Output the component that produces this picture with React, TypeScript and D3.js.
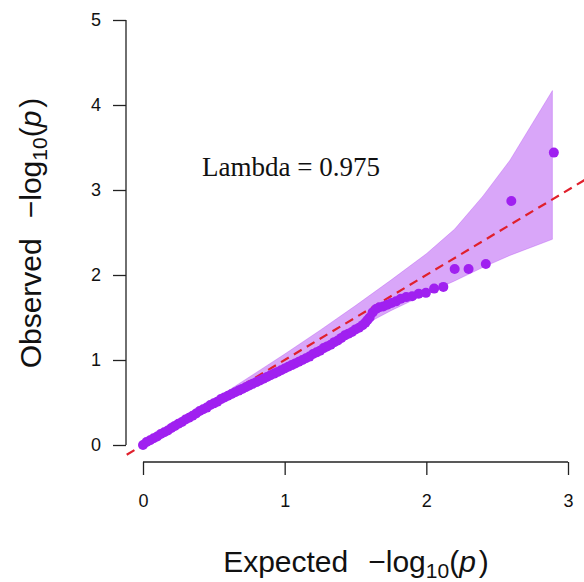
import React from 'react';
import * as d3 from 'd3';

// expected -log10(p) and observed -log10(p) for each SNP
const expected = [
  0.00, 0.025, 0.05, 0.075, 0.10, 0.125, 0.15, 0.175, 0.20, 0.225,
  0.25, 0.275, 0.30, 0.325, 0.35, 0.375, 0.40, 0.425, 0.45, 0.475,
  0.50, 0.525, 0.55, 0.575, 0.60, 0.625, 0.65, 0.675, 0.70, 0.725,
  0.75, 0.775, 0.80, 0.825, 0.85, 0.875, 0.90, 0.925, 0.95, 0.975,
  1.00, 1.025, 1.05, 1.075, 1.10, 1.125, 1.15, 1.175, 1.20, 1.225,
  1.25, 1.275, 1.30, 1.325, 1.35, 1.375, 1.40, 1.425, 1.45, 1.475,
  1.50, 1.525, 1.55, 1.57, 1.585, 1.60, 1.621, 1.645, 1.669, 1.696,
  1.724, 1.754, 1.786, 1.82, 1.858, 1.90, 1.946, 1.997, 2.055, 2.12,
  2.20, 2.298, 2.42, 2.60, 2.90,
];
const observed = [
  0.00, 0.035, 0.055, 0.08, 0.10, 0.13, 0.15, 0.17, 0.20, 0.225,
  0.25, 0.27, 0.30, 0.32, 0.345, 0.37, 0.40, 0.42, 0.44, 0.47,
  0.49, 0.51, 0.54, 0.56, 0.58, 0.60, 0.62, 0.64, 0.66, 0.68,
  0.70, 0.72, 0.74, 0.76, 0.78, 0.80, 0.82, 0.84, 0.86, 0.88,
  0.90, 0.92, 0.94, 0.96, 0.98, 1.00, 1.02, 1.04, 1.07, 1.09,
  1.11, 1.14, 1.16, 1.18, 1.21, 1.23, 1.26, 1.29, 1.31, 1.33,
  1.36, 1.38, 1.41, 1.44, 1.47, 1.50, 1.56, 1.60, 1.62, 1.63,
  1.65, 1.67, 1.69, 1.72, 1.74, 1.75, 1.78, 1.79, 1.84, 1.86,
  2.07, 2.07, 2.13, 2.87, 3.44,
];

// confidence band
const bandX = [0, 0.25, 0.5, 0.75, 1.0, 1.25, 1.5, 1.75, 2.0, 2.2, 2.4, 2.59, 2.89];
const bandUpper = [0, 0.26, 0.53, 0.80, 1.07, 1.35, 1.64, 1.94, 2.25, 2.54, 2.93, 3.35, 4.17];
const bandLower = [0, 0.235, 0.47, 0.70, 0.92, 1.14, 1.36, 1.58, 1.78, 1.93, 2.09, 2.23, 2.42];

const xTicks = [0, 1, 2, 3];
const yTicks = [0, 1, 2, 3, 4, 5];
const lambda = 0.975;

const width = 584;
const height = 582;

const QQPlot: React.FC = () => {
  const svgRef = React.useRef<SVGSVGElement>(null);

  React.useEffect(() => {
    if (!svgRef.current) return;
    d3.select(svgRef.current).selectAll('*').remove();
    const svg = d3.select(svgRef.current);

    // pixel positions of the axis ticks
    const x = d3.scaleLinear().domain([0, 3]).range([143, 568]);
    const y = d3.scaleLinear().domain([0, 5]).range([445, 20]);

    const band = bandX.map((v, i) => ({ x: v, lo: bandLower[i], hi: bandUpper[i] }));
    const area = d3.area<{ x: number; lo: number; hi: number }>()
      .x(d => x(d.x))
      .y0(d => y(d.lo))
      .y1(d => y(d.hi));

    svg.append('path')
      .attr('d', area(band) || '')
      .attr('fill', '#a020f0')
      .attr('fill-opacity', 0.4)
      .attr('stroke', '#a020f0')
      .attr('stroke-opacity', 0.25)
      .attr('stroke-width', 1);

    // y = x reference line
    svg.append('line')
      .attr('x1', x(-0.115))
      .attr('y1', y(-0.115))
      .attr('x2', x(3.3))
      .attr('y2', y(3.3))
      .attr('stroke', '#e0202c')
      .attr('stroke-width', 2.2)
      .attr('stroke-dasharray', '9,6');

    svg.append('g')
      .selectAll('circle')
      .data(expected)
      .enter().append('circle')
      .attr('cx', d => x(d))
      .attr('cy', (d, i) => y(observed[i]))
      .attr('r', 5)
      .attr('fill', '#a020f0');

    // x axis
    const xAxis = svg.append('g')
      .attr('transform', 'translate(0,462)')
      .call(d3.axisBottom(x).tickValues(xTicks).tickFormat(d3.format('d')).tickSize(13).tickPadding(19));
    // y axis
    const yAxis = svg.append('g')
      .attr('transform', 'translate(126,0)')
      .call(d3.axisLeft(y).tickValues(yTicks).tickFormat(d3.format('d')).tickSize(13).tickPadding(12));

    [xAxis, yAxis].forEach(a => {
      a.select('.domain').attr('stroke', '#222').attr('stroke-width', 1.3);
      a.selectAll('.tick line').attr('stroke', '#222').attr('stroke-width', 1.3);
      a.selectAll('.tick text')
        .attr('font-family', 'Liberation Sans, Arial, sans-serif')
        .attr('font-size', 18)
        .attr('fill', '#111');
    });
    // R-style: the axis line stops at the end ticks
    xAxis.select('.domain').attr('d', `M${x(0)},0H${x(3)}`);
    yAxis.select('.domain').attr('d', `M0,${y(0)}V${y(5)}`);

    const axisTitle = (g: d3.Selection<SVGTextElement, unknown, null, undefined>, label: string) => {
      g.attr('font-family', 'Liberation Sans, Arial, sans-serif')
        .attr('font-size', 30)
        .attr('fill', '#111')
        .attr('text-anchor', 'middle');
      g.append('tspan').text(label);
      g.append('tspan').attr('dx', 20).text('\u2212log');
      g.append('tspan').attr('font-size', 21).attr('dy', 6).text('10');
      g.append('tspan').attr('dy', -6).text('(');
      g.append('tspan').attr('font-style', 'italic').text('p');
      g.append('tspan').attr('dx', 3).text(')');
    };

    axisTitle(svg.append('text').attr('x', 356).attr('y', 572), 'Expected');
    axisTitle(
      svg.append('text').attr('transform', 'translate(41,233) rotate(-90)'),
      'Observed'
    );

    svg.append('text')
      .attr('x', 202)
      .attr('y', 176)
      .attr('font-family', 'Liberation Serif, Times New Roman, serif')
      .attr('font-size', 27)
      .attr('fill', '#111')
      .text(`Lambda = ${lambda}`);
  }, []);

  return (
    <svg
      ref={svgRef}
      width={width}
      height={height}
      viewBox={`0 0 ${width} ${height}`}
      style={{ position: 'absolute', left: 0, top: 0, background: '#fff' }}
    />
  );
};

export default function App() {
  return <QQPlot />;
}
